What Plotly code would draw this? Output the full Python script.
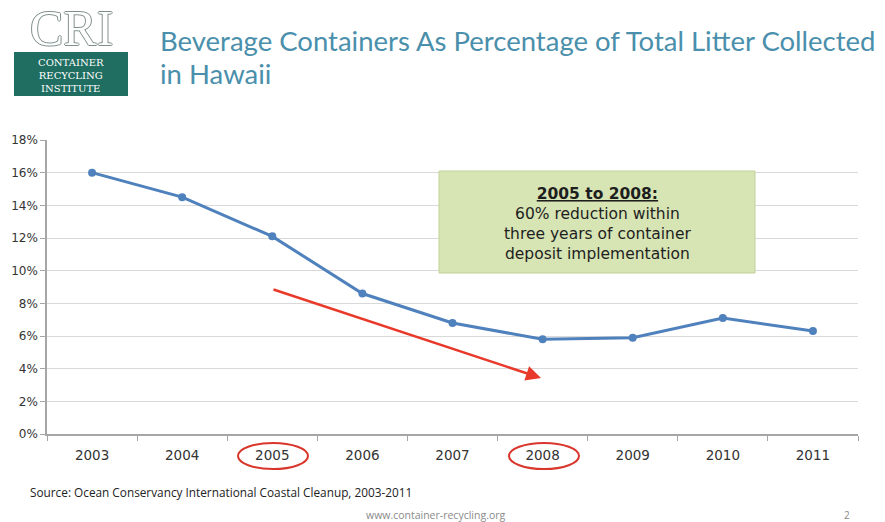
import plotly.graph_objects as go

years = ["2003", "2004", "2005", "2006", "2007", "2008", "2009", "2010", "2011"]
pct = [16.0, 14.5, 12.1, 8.6, 6.8, 5.8, 5.9, 7.1, 6.3]
y_ticks = [0, 2, 4, 6, 8, 10, 12, 14, 16, 18]
y_tick_labels = [f"{v}%" for v in y_ticks]

title_lines = ["Beverage Containers As Percentage of Total Litter Collected", "in Hawaii"]
box_lines = ["<b><u>2005 to 2008:</u></b>", "60% reduction within",
             "three years of container", "deposit implementation"]
logo_lines = ["CONTAINER", "RECYCLING", "INSTITUTE"]

W, H = 885, 522
L, R, T, B = 47, 858, 140, 434


def px(x):
    return (x - L) / (R - L)


def py(y):
    return (B - y) / (B - T)


def text(x, y, s, font, xanchor="center", yanchor="middle"):
    return dict(xref="paper", yref="paper", x=px(x), y=py(y), text=s, showarrow=False,
                xanchor=xanchor, yanchor=yanchor, font=font)


fig = go.Figure()
fig.add_trace(go.Scatter(
    x=years, y=pct, mode="lines+markers",
    line=dict(color="#4f81bd", width=3),
    marker=dict(color="#4f81bd", size=8),
    hoverinfo="skip", showlegend=False,
))

shapes = []
annotations = []

# green callout box
shapes.append(dict(type="rect", xref="paper", yref="paper",
                   x0=px(439), x1=px(755), y0=py(273), y1=py(171),
                   fillcolor="#d7e4b4", line=dict(color="#c3d19c", width=1), layer="above"))
annotations.append(text(597, 224, "<br>".join(box_lines),
                        dict(family="DejaVu Sans", size=15.5, color="#1e1e1e")))

# red arrow
annotations.append(dict(xref="paper", yref="paper", x=px(541), y=py(378),
                        ax=272 - 541, ay=289 - 378, axref="pixel", ayref="pixel",
                        text="", showarrow=True, arrowhead=2, arrowsize=1.2,
                        arrowwidth=2.5, arrowcolor="#e8392a", standoff=0))

# red ellipses around 2005 and 2008
for cx in (273, 544):
    shapes.append(dict(type="circle", xref="paper", yref="paper",
                       x0=px(cx - 35), x1=px(cx + 35), y0=py(469), y1=py(443),
                       line=dict(color="#d9362b", width=2)))

# logo
shapes.append(dict(type="rect", xref="paper", yref="paper",
                   x0=px(14), x1=px(128), y0=py(96), y1=py(52),
                   fillcolor="#1f6e61", line=dict(width=0)))
annotations.append(text(71, 75, "<br>".join(logo_lines),
                        dict(family="DejaVu Serif", size=10, color="white")))
annotations.append(text(71, 28, "CRI",
                        dict(family="Liberation Serif", size=50, color="white",
                             shadow="1px 0 0 #7f8f8c, -1px 0 0 #7f8f8c, 0 1px 0 #7f8f8c, 0 -1px 0 #7f8f8c")))

# title
for yy, s in zip([41, 73], title_lines):
    annotations.append(text(158, yy, s, dict(family="Lato", size=27.5, color="#4a8fab"),
                            xanchor="left"))

# source + footer
annotations.append(text(28, 492, "Source: Ocean Conservancy International Coastal Cleanup, 2003-2011",
                        dict(family="Open Sans", size=11.8, color="#222"), xanchor="left"))
annotations.append(text(436, 515, "www.container-recycling.org",
                        dict(family="Open Sans", size=10.5, color="#8a8a8a")))
annotations.append(text(847, 515, "2", dict(family="Open Sans", size=10, color="#8a8a8a")))

fig.update_layout(
    width=W, height=H,
    margin=dict(l=L, r=W - R, t=T, b=H - B, pad=0),
    paper_bgcolor="white", plot_bgcolor="white",
    shapes=shapes, annotations=annotations,
    xaxis=dict(type="category", range=[-0.5, 8.5], tickson="boundaries",
               ticks="outside", ticklen=5, tickcolor="#a6a6a6", ticklabelstandoff=8,
               showline=True, linecolor="#a6a6a6", linewidth=1.5, showgrid=False,
               tickfont=dict(family="DejaVu Sans", size=13.5, color="#333")),
    yaxis=dict(range=[0, 18], tickvals=y_ticks, ticktext=y_tick_labels,
               ticks="outside", ticklen=5, tickcolor="#a6a6a6",
               showline=True, linecolor="#a6a6a6", linewidth=1.5,
               showgrid=True, gridcolor="#d9d9d9", gridwidth=1.2, zeroline=False,
               tickfont=dict(family="DejaVu Sans", size=12, color="#333")),
)

fig.write_html("out.html", config={"displayModeBar": False},
               post_script="document.body.style.margin='0';")
